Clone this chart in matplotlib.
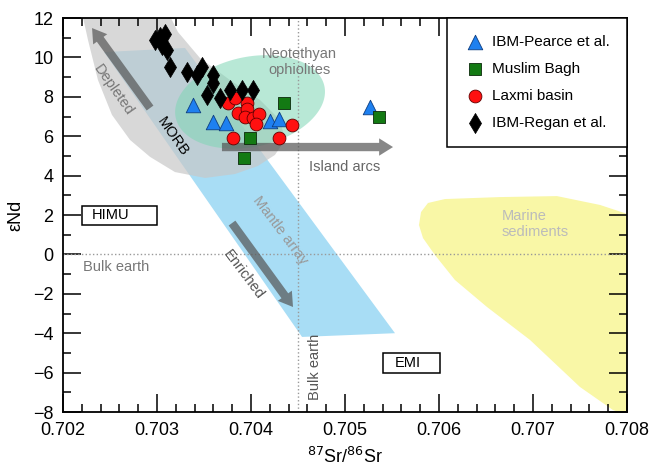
import matplotlib
matplotlib.use("Agg")
import matplotlib.pyplot as plt
import numpy as np
from matplotlib.patches import Polygon, Rectangle

plt.rcParams['font.family'] = ['Liberation Sans', 'DejaVu Sans']

# ---- data ----
pearce_sr = [0.703383, 0.703596, 0.703734, 0.704202, 0.704298, 0.705266]
pearce_nd = [7.58, 6.72, 6.67, 6.77, 6.87, 7.48]

bagh_sr = [0.704351, 0.703989, 0.703926, 0.705362]
bagh_nd = [7.69, 5.91, 4.89, 6.97]

laxmi_sr = [0.703755, 0.703830, 0.703957, 0.703862, 0.703957, 0.703936,
            0.704021, 0.704085, 0.704053, 0.704436, 0.703809, 0.704298]
laxmi_nd = [7.69, 7.94, 7.69, 7.18, 7.38, 6.97, 6.92, 7.13, 6.62, 6.57, 5.91, 5.91]

regan_sr = [0.702979, 0.703032, 0.703085, 0.703053, 0.703106, 0.703138, 0.703319,
            0.703426, 0.703479, 0.703596, 0.703596, 0.703532, 0.703670, 0.703777,
            0.703904, 0.704021]
regan_nd = [10.88, 11.04, 11.19, 10.63, 10.38, 9.51, 9.26, 9.11, 9.51, 9.11, 8.70,
            8.09, 7.94, 8.35, 8.35, 8.35]

# field outlines (Sr, Nd)
morb_sr = [0.702200, 0.702266, 0.702372, 0.702521, 0.702713, 0.702926, 0.703191,
           0.703511, 0.703830, 0.704074, 0.704255, 0.704362, 0.704309, 0.704096,
           0.703777, 0.703457, 0.703223, 0.703117]
morb_nd = [12.3, 10.88, 8.85, 7.08, 5.81, 4.95, 4.18, 3.88, 4.08, 4.49, 5.05, 5.81,
           6.82, 7.84, 8.85, 9.97, 11.29, 12.3]

mantle_sr = [0.702436, 0.703298, 0.705532, 0.704543]
mantle_nd = [10.27, 10.48, -4.00, -4.19]

sed_sr = [0.705787, 0.705809, 0.705883, 0.706064, 0.706649, 0.707255, 0.707713,
          0.708100, 0.708100, 0.707851, 0.707500, 0.706968, 0.706511, 0.706170,
          0.705957, 0.705830]
sed_nd = [1.49, 2.15, 2.61, 2.81, 2.91, 2.96, 2.51, 1.9, -8.3, -7.9, -6.73, -4.34,
          -2.67, -1.30, -0.03, 0.83]

# Neotethyan ophiolite ellipse: centre (Sr, Nd), semi-axes in px, tilt in deg
ophio_centre = (0.70399, 7.74)
ophio_axes_px = (76, 45)
ophio_tilt = 12

bulk_sr = 0.7045
bulk_nd = 0.0

fig = plt.figure(figsize=(6.57, 4.70), dpi=100)
ax = fig.add_axes([0.0959, 0.1234, 0.8584, 0.8383])
ax.set_xlim(0.702, 0.708)
ax.set_ylim(-8, 12)

# fields
ax.add_patch(Polygon(np.column_stack([sed_sr, sed_nd]), closed=True,
                     facecolor='#f9f7a6', edgecolor='none', zorder=1))
ax.add_patch(Polygon(np.column_stack([mantle_sr, mantle_nd]), closed=True,
                     facecolor='#a8ddf5', edgecolor='none', zorder=1.2))
ax.add_patch(Polygon(np.column_stack([morb_sr, morb_nd]), closed=True,
                     facecolor='#c8c8c8', alpha=0.7, edgecolor='none', zorder=1.4))

cx, cy = ax.transData.transform(ophio_centre)
t = np.linspace(0, 2 * np.pi, 200)
th = np.deg2rad(ophio_tilt)
a, b = ophio_axes_px
px = cx + a * np.cos(t) * np.cos(th) - b * np.sin(t) * np.sin(th)
py = cy + a * np.cos(t) * np.sin(th) + b * np.sin(t) * np.cos(th)
ell = ax.transData.inverted().transform(np.column_stack([px, py]))
ax.add_patch(Polygon(ell, closed=True, facecolor='#7fd6b5', alpha=0.55,
                     edgecolor='none', zorder=1.6))

# bulk earth reference lines
ax.axhline(bulk_nd, color='#999999', ls=':', lw=1, zorder=2)
ax.axvline(bulk_sr, color='#999999', ls=':', lw=1, zorder=2)

# arrows
arrow_kw = dict(arrowstyle='simple,head_width=1.25,head_length=1.0,tail_width=0.6',
                mutation_scale=10, color='#555555', alpha=0.7, lw=0,
                shrinkA=0, shrinkB=0)
ax.annotate('', xy=(0.702309, 11.49), xytext=(0.702926, 7.43), arrowprops=arrow_kw, zorder=3)
ax.annotate('', xy=(0.705511, 5.45), xytext=(0.703691, 5.45), arrowprops=arrow_kw, zorder=3)
ax.annotate('', xy=(0.704447, -2.67), xytext=(0.703798, 1.59), arrowprops=arrow_kw, zorder=3)

# labels on the fields
ax.text(0.704511, 9.77, 'Neotethyan\nophiolites', ha='center', va='center',
        color='#777777', fontsize=10.5, linespacing=1.25, zorder=4)
ax.text(0.702532, 8.34, 'Depleted', ha='center', va='center', rotation=-55,
        color='#777777', fontsize=10.5, zorder=4)
ax.text(0.703170, 5.96, 'MORB', ha='center', va='center', rotation=-55,
        color='black', fontsize=10.5, zorder=4)
ax.text(0.705000, 4.44, 'Island arcs', ha='center', va='center',
        color='#666666', fontsize=10.5, zorder=4)
ax.text(0.704309, 1.24, 'Mantle array', ha='center', va='center', rotation=-53,
        color='#999999', fontsize=10.5, zorder=4)
ax.text(0.703915, -1.04, 'Enriched', ha='center', va='center', rotation=-53,
        color='#555555', fontsize=10.5, zorder=4)
ax.text(0.702213, -0.64, 'Bulk earth', ha='left', va='center',
        color='#777777', fontsize=10.5, zorder=4)
ax.text(0.704681, -5.70, 'Bulk earth', ha='center', va='center', rotation=90,
        color='#555555', fontsize=10.5, zorder=4)
ax.text(0.706670, 1.54, 'Marine\nsediments', ha='left', va='center',
        color='#bbbbbb', fontsize=10.5, linespacing=1.25, zorder=4)

# boxed end-member labels
ax.add_patch(Rectangle((0.702202, 1.49), 0.000798, 0.97, facecolor='white',
                       edgecolor='black', lw=1.1, zorder=4))
ax.text(0.702309, 1.98, 'HIMU', ha='left', va='center', fontsize=10.5, zorder=5)
ax.add_patch(Rectangle((0.705404, -6.02), 0.000607, 1.01, facecolor='white',
                       edgecolor='black', lw=1.1, zorder=4))
ax.text(0.705532, -5.52, 'EMI', ha='left', va='center', fontsize=10.5, zorder=5)

# samples
ax.scatter(pearce_sr, pearce_nd, marker='^', s=110, c='#1e80f0', edgecolors='#0d3d80',
           linewidths=0.6, zorder=6, label='IBM-Pearce et al.')
ax.scatter(bagh_sr, bagh_nd, marker='s', s=85, c='#137a13', edgecolors='#0a2a0a',
           linewidths=0.6, zorder=6, label='Muslim Bagh')
ax.scatter(laxmi_sr, laxmi_nd, marker='o', s=85, c='#ff1010', edgecolors='#600000',
           linewidths=0.6, zorder=6, label='Laxmi basin')
ax.scatter(regan_sr, regan_nd, marker='d', s=105, c='black', edgecolors='black',
           linewidths=0.5, zorder=6, label='IBM-Regan et al.')

leg = ax.legend(loc='upper right', borderaxespad=0, fontsize=11, frameon=True,
                fancybox=False, edgecolor='black', framealpha=1, labelspacing=0.85,
                handlelength=1.5, handletextpad=0.4, borderpad=1.1, scatterpoints=1)
leg.get_frame().set_linewidth(1.1)
leg.set_zorder(10)

# axes styling
ax.set_xticks([0.702, 0.703, 0.704, 0.705, 0.706, 0.707, 0.708])
ax.set_xticklabels(['0.702', '0.703', '0.704', '0.705', '0.706', '0.707', '0.708'])
ax.set_yticks(range(-8, 13, 2))
ax.set_xticks(np.arange(0.702, 0.7081, 0.0002), minor=True)
ax.set_yticks(range(-8, 13, 1), minor=True)
ax.tick_params(which='both', direction='in', top=True, right=True, width=1.1,
               labelsize=13, pad=7)
ax.tick_params(which='major', length=13)
ax.tick_params(which='minor', length=6)
for sp in ax.spines.values():
    sp.set_linewidth(1.3)

ax.set_xlabel('$^{87}$Sr/$^{86}$Sr', fontsize=13, labelpad=6)
ax.set_ylabel('εNd', fontsize=13, labelpad=6)

fig.savefig('out.png', dpi=100)
